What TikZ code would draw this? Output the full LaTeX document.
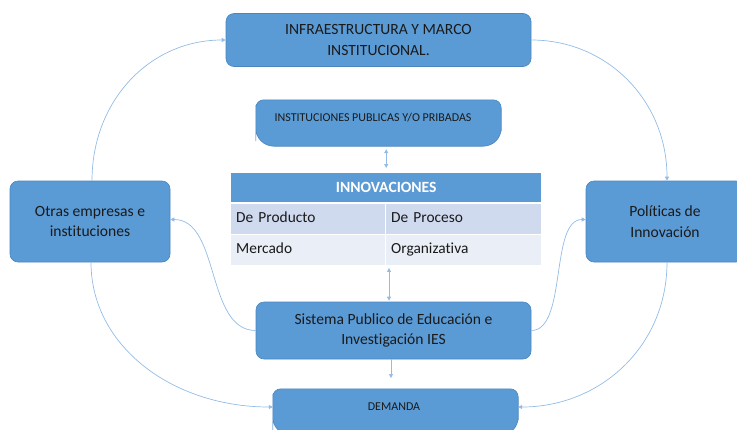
\documentclass[tikz,border=0pt]{standalone}
\usepackage{fontspec}
\setmainfont{Carlito}[Ligatures=NoCommon]
\usetikzlibrary{arrows.meta}
\definecolor{boxblue}{HTML}{5B9BD5}
\definecolor{boxedge}{HTML}{4A85BF}
\definecolor{linkblue}{HTML}{92BCE6}
\definecolor{rowa}{HTML}{CFDAEE}
\definecolor{rowb}{HTML}{E9EEF7}
\definecolor{txt}{HTML}{1A1A1A}
\begin{document}
\begin{tikzpicture}[x=1pt,y=-1pt,
  box/.style={draw=boxedge, fill=boxblue, rounded corners=8pt, line width=0.6pt,
    align=center, text=txt, font=\fontsize{15.6}{20.5}\selectfont, inner sep=0pt},
  ghost/.style={inner sep=0pt},
  shapefill/.style={draw=boxedge, fill=boxblue, line width=0.6pt},
  smalltxt/.style={text=txt, font=\fontsize{12}{14}\selectfont, inner sep=0pt},
  cell/.style={anchor=north west, minimum height=30pt, inner ysep=0pt, inner xsep=5pt,
    text height=11pt, text depth=4pt,
    align=left, text=txt, font=\fontsize{15.4}{17}\selectfont},
  link/.style={draw=linkblue, line width=0.7pt, -{Triangle[length=4pt,width=4pt]}},
  dlink/.style={draw=linkblue, line width=0.7pt, {Triangle[length=4pt,width=4pt]}-{Triangle[length=4pt,width=4pt]}}]
\useasboundingbox (0,0) rectangle (737,429);
\clip (0,0) rectangle (737,429);

% main boxes
\node[box, minimum width=305pt, minimum height=53pt] (infra) at (378.5,40)
  {INFRAESTRUCTURA Y MARCO\\INSTITUCIONAL.};
\node[box, minimum width=160pt, minimum height=81pt] (otras) at (90,221.5)
  {Otras empresas e\\instituciones};
\node[box, minimum width=158pt, minimum height=81pt] (pol) at (665,221.5)
  {Políticas de\\Innovación};
\node[box, minimum width=275pt, minimum height=57pt] (sis) at (393.5,330.5)
  {Sistema Publico de Educación e\\Investigación IES};

% INSTITUCIONES shape
\node[ghost, minimum width=245pt, minimum height=46pt] (inst) at (378.5,123) {};
\path[shapefill] (inst.north) [rounded corners=8pt] -- (inst.north east) -- (inst.east)
  [rounded corners=18pt] -- (inst.south east) -- (inst.south) -- (inst.south west) -- (inst.west)
  [rounded corners=8pt] -- (inst.north west) -- cycle;
\node[smalltxt] (instt) at (373,118) {INSTITUCIONES PUBLICAS Y/O PRIBADAS};

% DEMANDA shape
\node[ghost, minimum width=245pt, minimum height=46pt] (dem) at (395.5,412) {};
\path[shapefill] (dem.north) [rounded corners=8pt] -- (dem.north east) -- (dem.east)
  [rounded corners=18pt] -- (dem.south east) -- (dem.south) -- (dem.south west) -- (dem.west)
  [rounded corners=8pt] -- (dem.north west) -- cycle;
\node[smalltxt] (demt) at (394,407) {DEMANDA};

% table
\node[anchor=north west, fill=boxblue, minimum width=310pt, minimum height=29pt, inner sep=0pt,
  text=white, font=\bfseries\fontsize{15.6}{17}\selectfont] (innov) at (231,173) {INNOVACIONES};
\node[cell, fill=rowa, text width=144pt] (c11) at (231,203.5) {De Producto};
\node[cell, fill=rowa, text width=145pt] (c12) at (386,203.5) {De Proceso};
\node[cell, fill=rowb, text width=144pt] (c21) at (231,234.5) {Mercado};
\node[cell, fill=rowb, text width=145pt] (c22) at (386,234.5) {Organizativa};

% connectors
\draw[link] ([xshift=2pt]otras.north) .. controls +(0,-80) and +(-76,0) .. (infra.west);
\draw[link] (infra.east) .. controls +(76,0) and +(0,-80) .. ([xshift=2pt]pol.north);
\draw[link] ([xshift=2pt]pol.south) .. controls +(0,84) and +(82,0) .. ([yshift=5pt]dem.east);
\draw[link] ([xshift=1pt]otras.south) .. controls +(0,84) and +(-100,0) .. ([yshift=5pt]dem.west);
\draw[link] (sis.west) .. controls +(-50,0) and +(50,0) .. ([yshift=2pt]otras.east);
\draw[link] (sis.east) .. controls +(36,0) and +(-36,0) .. ([yshift=2pt]pol.west);
\draw[dlink, shorten <=3pt, shorten >=5pt] (inst.south -| innov.north) -- (innov.north);
\draw[dlink, shorten <=3pt, shorten >=1pt] ([xshift=3pt]c22.south west) -- ([xshift=3pt]c22.south west |- sis.north);
\coordinate (dtip) at (391,378);
\draw[link] (sis.south -| dtip) -- (dtip);
\end{tikzpicture}
\end{document}
